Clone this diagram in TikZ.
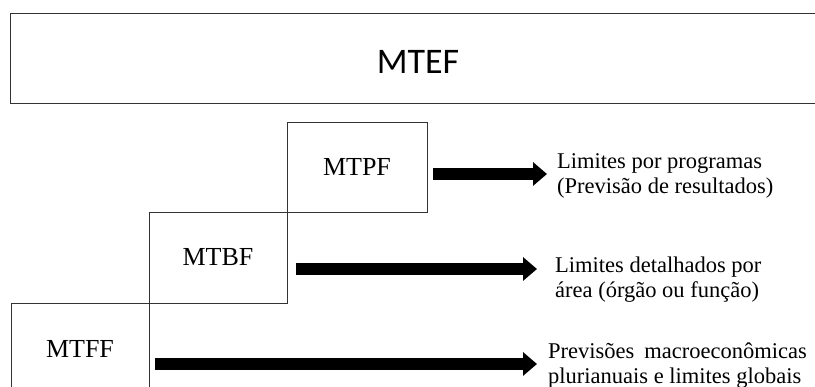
\documentclass[tikz,border=0pt]{standalone}
\usepackage{fontspec}
\setmainfont{Liberation Serif}
\newfontfamily\headfont{Carlito}
\usetikzlibrary{arrows.meta}
\begin{document}
\begin{tikzpicture}[x=1pt,y=-1pt,
  framebox/.style={draw=black!80,line width=0.9pt,inner sep=0pt},
  stagebox/.style={framebox,minimum width=138pt,font=\fontsize{26}{30}\selectfont},
  bigarrow/.style={line width=12pt,-{Triangle[width=23pt,length=14pt]},black},
  note/.style={anchor=west,inner sep=0pt,align=left,font=\fontsize{22.5}{25}\selectfont}]
\useasboundingbox (0,0) rectangle (815,387);
% top frame, open on the right
\node[framebox,anchor=north west,minimum width=815pt,minimum height=90pt] (mtef) at (10,13) {};
\node[font=\headfont\fontsize{36}{40}\selectfont] (mteflabel) at (418,62) {MTEF};
% staircase of stages
\node[stagebox,minimum width=140pt,minimum height=90pt] (mtpf) at (357,167) {MTPF};
\node[stagebox,minimum height=91pt] (mtbf) at (218,257.5) {MTBF};
\node[stagebox,minimum height=92pt] (mtff) at (80,349) {MTFF};
% outcome texts
\node[note] (lp) at (557,175.5) {Limites por programas\\(Previsão de resultados)};
\node[note] (ld) at (555,279.5) {Limites detalhados por\\área (órgão ou função)};
\node[note,font=\fontsize{22.5}{25}\selectfont] (pm) at (548,365.5) {Previsões\hspace{10pt}macroeconômicas\\plurianuais e limites globais};
% arrow end points
\coordinate (a1s) at (433,174);
\coordinate (a1e) at (547,174);
\coordinate (a2s) at (296,269);
\coordinate (a2e) at (537,269);
\coordinate (a3s) at (155,364);
\coordinate (a3e) at (537,364);
\draw[bigarrow] (a1s) -- (a1e);
\draw[bigarrow] (a2s) -- (a2e);
\draw[bigarrow] (a3s) -- (a3e);
\end{tikzpicture}
\end{document}
